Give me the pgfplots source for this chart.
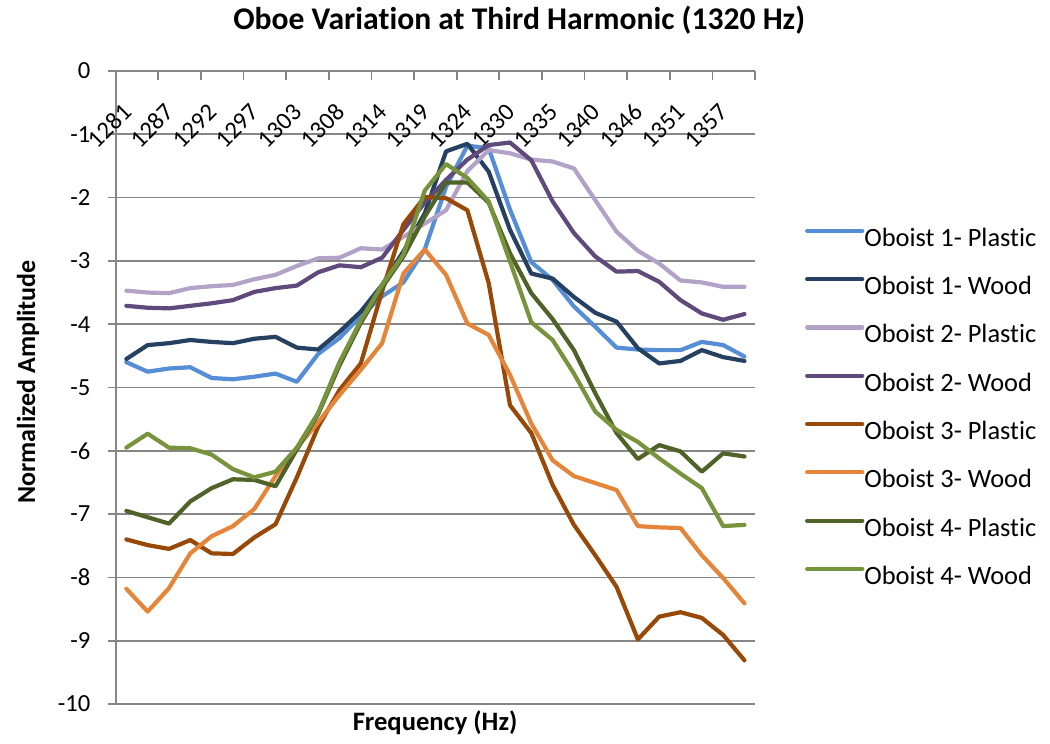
\documentclass[border=0pt]{standalone}
\usepackage{fontspec}
\setmainfont{Carlito}[Ligatures={NoCommon}]
\usepackage{pgfplots}
\usepackage{pgfplotstable}
\pgfplotsset{compat=1.18}
\definecolor{cA}{HTML}{558ED5}
\definecolor{cB}{HTML}{254061}
\definecolor{cC}{HTML}{B3A2C7}
\definecolor{cD}{HTML}{604A7B}
\definecolor{cE}{HTML}{984807}
\definecolor{cF}{HTML}{E5853A}
\definecolor{cG}{HTML}{4F6228}
\definecolor{cH}{HTML}{77933C}
\definecolor{gridgray}{HTML}{868686}
\pgfplotstableread{
k  s1    s2    s3    s4    s5    s6    s7    s8
0  -4.60 -4.55 -3.47 -3.71 -7.40 -8.18 -6.95 -5.95
1  -4.75 -4.33 -3.50 -3.74 -7.49 -8.54 -7.05 -5.73
2  -4.70 -4.30 -3.51 -3.75 -7.55 -8.17 -7.15 -5.95
3  -4.68 -4.25 -3.43 -3.71 -7.41 -7.62 -6.80 -5.96
4  -4.85 -4.28 -3.40 -3.67 -7.62 -7.35 -6.59 -6.06
5  -4.87 -4.30 -3.38 -3.62 -7.63 -7.19 -6.45 -6.29
6  -4.83 -4.23 -3.29 -3.49 -7.37 -6.92 -6.46 -6.42
7  -4.78 -4.20 -3.22 -3.43 -7.16 -6.40 -6.56 -6.33
8  -4.91 -4.37 -3.08 -3.39 -6.42 -5.95 -5.98 -5.95
9  -4.47 -4.40 -2.96 -3.18 -5.62 -5.55 -5.42 -5.40
10 -4.22 -4.12 -2.95 -3.07 -5.04 -5.12 -4.65 -4.60
11 -3.87 -3.80 -2.80 -3.10 -4.62 -4.72 -3.98 -3.94
12 -3.56 -3.38 -2.82 -2.95 -3.48 -4.30 -3.42 -3.38
13 -3.34 -2.85 -2.62 -2.51 -2.42 -3.20 -2.93 -2.90
14 -2.82 -2.25 -2.41 -2.08 -1.99 -2.82 -2.30 -1.89
15 -1.83 -1.27 -2.20 -1.72 -2.01 -3.22 -1.76 -1.47
16 -1.18 -1.15 -1.58 -1.40 -2.20 -3.99 -1.76 -1.69
17 -1.22 -1.59 -1.25 -1.17 -3.35 -4.17 -2.08 -2.06
18 -2.19 -2.51 -1.30 -1.13 -5.28 -4.80 -2.88 -3.01
19 -3.02 -3.20 -1.40 -1.41 -5.72 -5.57 -3.51 -3.97
20 -3.30 -3.28 -1.43 -2.06 -6.54 -6.15 -3.92 -4.25
21 -3.72 -3.57 -1.54 -2.56 -7.17 -6.40 -4.41 -4.78
22 -4.04 -3.82 -2.04 -2.93 -7.65 -6.51 -5.09 -5.38
23 -4.37 -3.96 -2.54 -3.17 -8.15 -6.62 -5.72 -5.67
24 -4.40 -4.38 -2.84 -3.16 -8.98 -7.19 -6.13 -5.86
25 -4.41 -4.62 -3.04 -3.33 -8.62 -7.21 -5.91 -6.12
26 -4.41 -4.58 -3.31 -3.62 -8.55 -7.22 -6.01 -6.36
27 -4.28 -4.41 -3.34 -3.83 -8.64 -7.65 -6.33 -6.59
28 -4.33 -4.52 -3.41 -3.93 -8.91 -8.01 -6.04 -7.19
29 -4.51 -4.58 -3.41 -3.84 -9.31 -8.41 -6.09 -7.17
}\oboe
\begin{document}
\begin{tikzpicture}
\path[use as bounding box] (0,0) rectangle (525pt,372pt);
\begin{axis}[
  at={(57.85pt,20pt)}, anchor=south west,
  scale only axis, width=319.7pt, height=316.5pt,
  xmin=-0.5, xmax=29.5, ymin=-10, ymax=0,
  axis x line=top, axis y line=left,
  axis line style={-, draw=gridgray, line width=0.85pt},
  tick align=inside,
  xtick={0,2,...,28},
  xticklabels={1281,1287,1292,1297,1303,1308,1314,1319,1324,1330,1335,1340,1346,1351,1357},
  major x tick style={draw=none},
  minor xtick={-0.5,1.5,...,29.5},
  minor tick length=4.5pt,
  minor x tick style={draw=gridgray, line width=0.85pt},
  xticklabel style={yshift=-18.5pt, xshift=0.5pt, rotate=45, anchor=east, inner sep=0pt, font=\fontsize{12.3}{14}\selectfont},
  ytick={-10,-9,...,0},
  yticklabels={-10,-9,-8,-7,-6,-5,-4,-3,-2,-1,0},
  major tick length=3.85pt,
  y tick style={draw=gridgray, line width=0.85pt, xshift=-3.85pt},
  yticklabel style={inner sep=0pt, xshift=-12.5pt, anchor=east, font=\fontsize{12.3}{14}\selectfont},
  ymajorgrids,
  grid style={draw=gridgray, line width=0.85pt},
  title={Oboe Variation at Third Harmonic (1320 Hz)},
  title style={at={(axis description cs:0.631,1.0458)}, anchor=base, inner sep=0pt, font=\bfseries\fontsize{15.8}{18}\selectfont},
  xlabel={Frequency (Hz)},
  xlabel style={at={(axis description cs:0.4995,-0.04265)}, anchor=base, inner sep=0pt, font=\bfseries\fontsize{13.3}{15}\selectfont},
  ylabel={Normalized Amplitude},
  ylabel style={at={(axis description cs:-0.1262,0.509)}, anchor=base, rotate=0, inner sep=0pt, font=\bfseries\fontsize{13}{15}\selectfont},
  legend style={at={(axis description cs:1.0782,0.7547)}, anchor=north west, draw=none, fill=none, inner sep=0pt, outer sep=0pt, row sep=11.15pt, font=\fontsize{13.2}{15}\selectfont, nodes={inner sep=0pt, text height=10pt, text depth=3pt}},
  legend cell align=left,
  legend image code/.code={\path (0pt,4.2pt) -- (27.5pt,4.2pt); \draw[#1, line cap=round] (1.05pt,4.2pt) -- (25.5pt,4.2pt);},
  every axis plot/.append style={line width=2.1pt, line join=round, line cap=round, mark=none},
]
\addplot[cA] table[x=k, y=s1] {\oboe};
\addlegendentry{Oboist 1- Plastic}
\addplot[cB] table[x=k, y=s2] {\oboe};
\addlegendentry{Oboist 1- Wood}
\addplot[cC] table[x=k, y=s3] {\oboe};
\addlegendentry{Oboist 2- Plastic}
\addplot[cD] table[x=k, y=s4] {\oboe};
\addlegendentry{Oboist 2- Wood}
\addplot[cE] table[x=k, y=s5] {\oboe};
\addlegendentry{Oboist 3- Plastic}
\addplot[cF] table[x=k, y=s6] {\oboe};
\addlegendentry{Oboist 3- Wood}
\addplot[cG] table[x=k, y=s7] {\oboe};
\addlegendentry{Oboist 4- Plastic}
\addplot[cH] table[x=k, y=s8] {\oboe};
\addlegendentry{Oboist 4- Wood}
\end{axis}
\end{tikzpicture}
\end{document}
